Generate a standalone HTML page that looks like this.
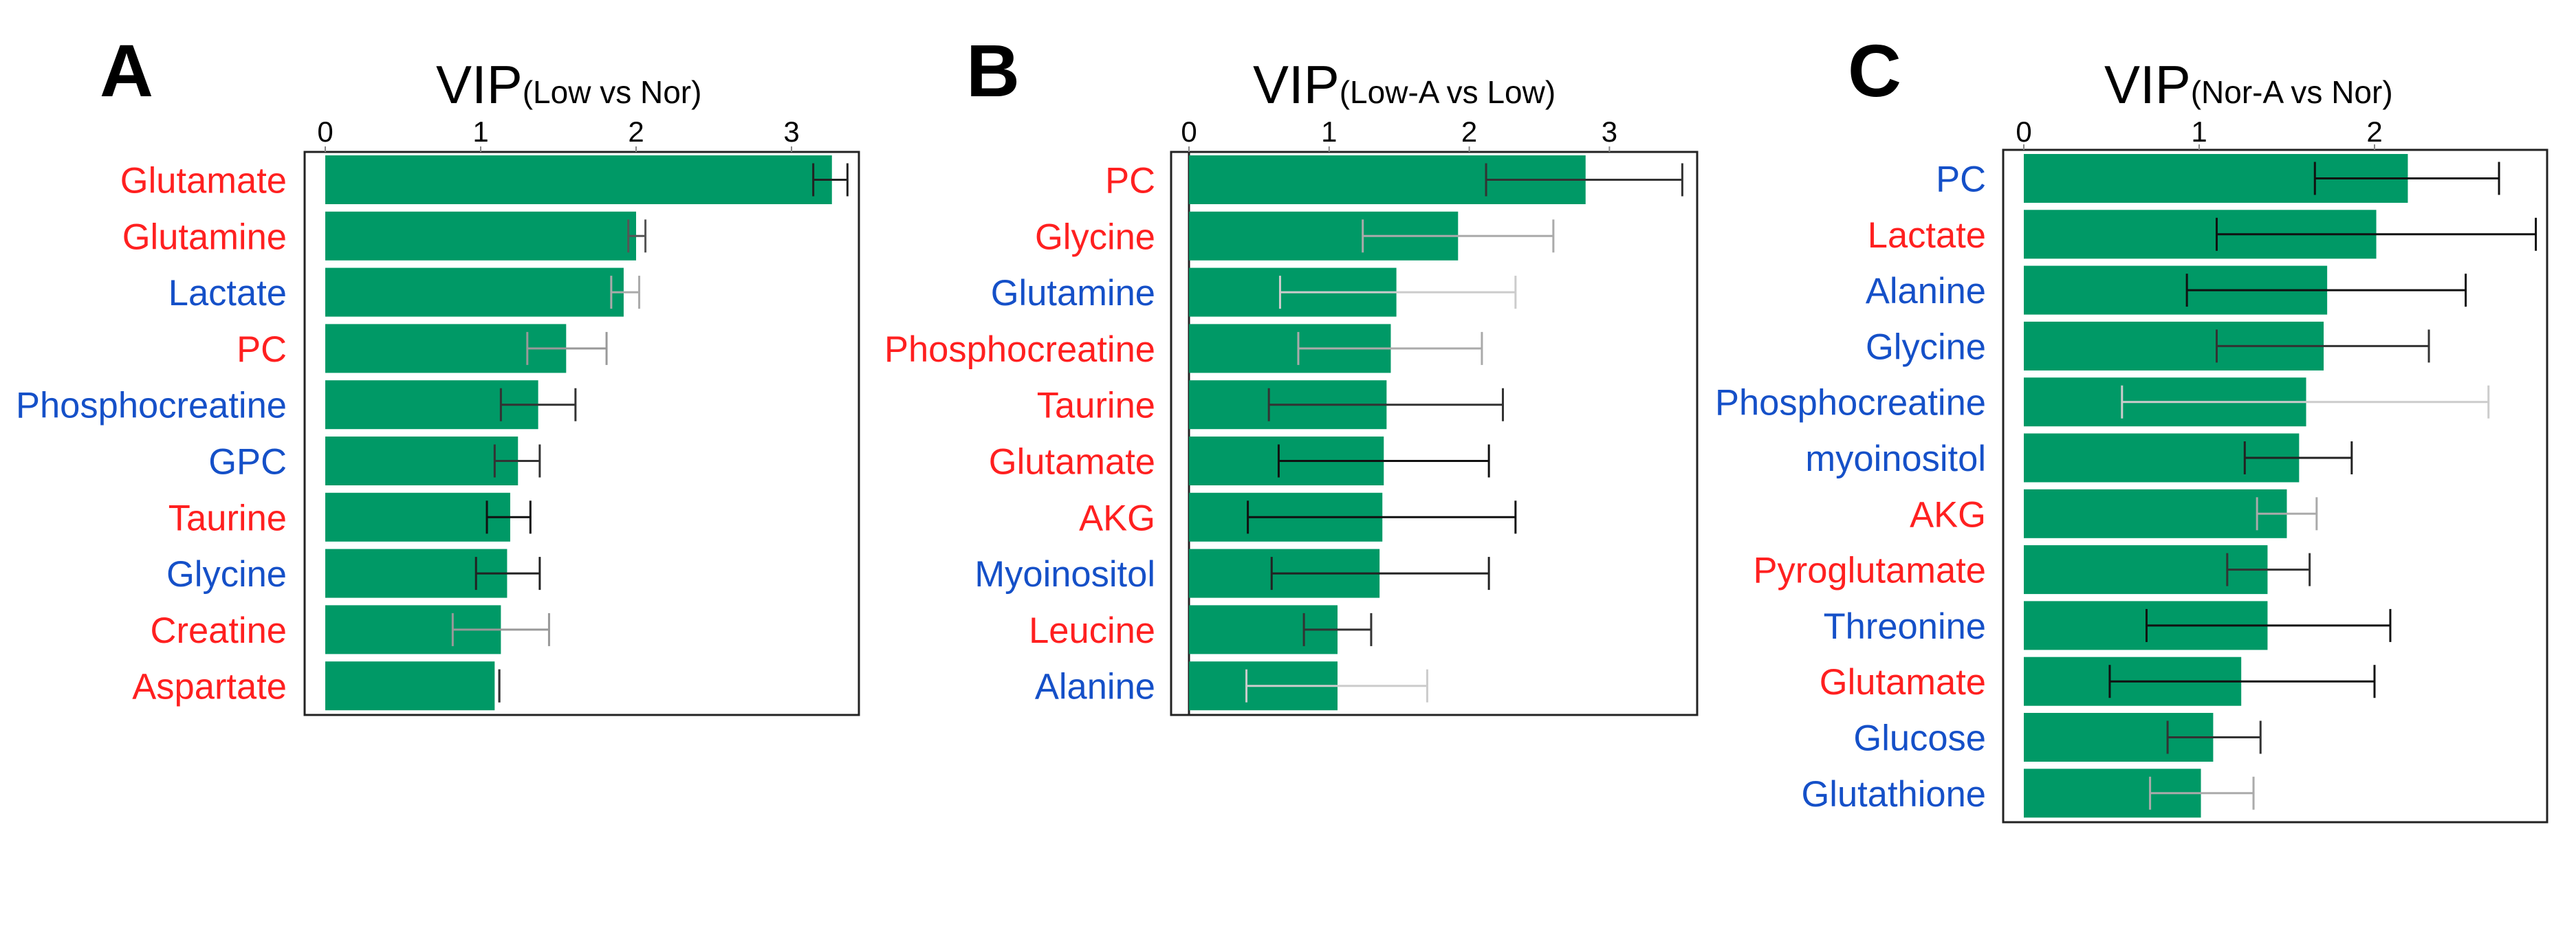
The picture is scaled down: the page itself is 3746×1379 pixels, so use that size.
<!DOCTYPE html>
<html><head><meta charset="utf-8">
<style>
html,body{margin:0;padding:0;background:#fff;}
svg{display:block;font-family:"Liberation Sans",Arial,sans-serif;}
</style></head>
<body>
<svg id="chart" width="3746" height="1379" viewBox="0 0 3746 1379" xmlns="http://www.w3.org/2000/svg"></svg>
<script>
// Panel A data
const catsA = ["Glutamate","Glutamine","Lactate","PC","Phosphocreatine","GPC","Taurine","Glycine","Creatine","Aspartate"];
const valsA = [3.26,2.00,1.92,1.55,1.37,1.24,1.19,1.17,1.13,1.09];
const loA = [3.14,1.95,1.84,1.30,1.13,1.09,1.04,0.97,0.82,1.12];
const hiA = [3.36,2.06,2.02,1.81,1.61,1.38,1.32,1.38,1.44,1.12];
const colA = ["r","r","b","r","b","b","r","b","r","r"];
const ticksA = [0,1,2,3];
// Panel B data
const catsB = ["PC","Glycine","Glutamine","Phosphocreatine","Taurine","Glutamate","AKG","Myoinositol","Leucine","Alanine"];
const valsB = [2.83,1.92,1.48,1.44,1.41,1.39,1.38,1.36,1.06,1.06];
const loB = [2.12,1.24,0.65,0.78,0.57,0.64,0.42,0.59,0.82,0.41];
const hiB = [3.52,2.60,2.33,2.09,2.24,2.14,2.33,2.14,1.30,1.70];
const colB = ["r","r","b","r","r","r","r","b","r","b"];
const ticksB = [0,1,2,3];
// Panel C data
const catsC = ["PC","Lactate","Alanine","Glycine","Phosphocreatine","myoinositol","AKG","Pyroglutamate","Threonine","Glutamate","Glucose","Glutathione"];
const valsC = [2.19,2.01,1.73,1.71,1.61,1.57,1.50,1.39,1.39,1.24,1.08,1.01];
const loC = [1.66,1.10,0.93,1.10,0.56,1.26,1.33,1.16,0.70,0.49,0.82,0.72];
const hiC = [2.71,2.92,2.52,2.31,2.65,1.87,1.67,1.63,2.09,2.00,1.35,1.31];
const colC = ["b","r","b","b","b","b","r","r","b","r","b","b"];
const ticksC = [0,1,2];

// error-bar line shades (style)
const errShadeA = ["#222","#555","#aaa","#999","#333","#333","#111","#222","#999","#333"];
const errShadeB = ["#333","#aaa","#ccc","#aaa","#333","#111","#111","#222","#333","#ccc"];
const errShadeC = ["#111","#111","#111","#333","#ccc","#222","#aaa","#333","#111","#111","#333","#aaa"];

const svg = document.getElementById('chart');
const NS = "http://www.w3.org/2000/svg";
function mk(tag, attrs, parent){
  const e = document.createElementNS(NS, tag);
  for (const k in attrs) e.setAttribute(k, attrs[k]);
  (parent||svg).appendChild(e);
  return e;
}
const RED="#ff2020", BLUE="#1550c8", GREEN="#009966";

function panel(p){
  const g = mk('g',{});
  
  
  const x = v => p.x0 + v * p.unit;
  const L = mk('text',{x:p.letterX,y:140,'font-size':108,'font-weight':'bold',fill:'#000'},g);
  L.textContent = p.letter;
  
  
  const T = mk('text',{x:p.titleX,y:150,fill:'#000'},g);
  
  
  const t1 = mk('tspan',{'font-size':78},T); t1.textContent = "VIP";
  const t2 = mk('tspan',{'font-size':46},T); t2.textContent = p.sub;
  const box = mk('rect',{x:p.bl,y:p.bt,width:p.br-p.bl,height:p.bb-p.bt,fill:'none',stroke:'#222','stroke-width':3},g);
  
  
  p.ticks.forEach(t=>{
    const tx = mk('text',{x:x(t),y:206,'font-size':42,'text-anchor':'middle',fill:'#000'},g);
    tx.textContent = t;
    
    
    const tm = mk('line',{x1:x(t),x2:x(t),y1:p.bt-8,y2:p.bt,stroke:'#888','stroke-width':2},g);
    
    
  });
  if (p.zeroLine){
    const zl = mk('line',{x1:x(0),x2:x(0),y1:p.bt,y2:p.bb,stroke:'#222','stroke-width':3},g);
    
    
  }
  p.cats.forEach((c,i)=>{
    const y = p.barTop + i*p.pitch;
    const b = mk('rect',{x:x(0),y:y,width:x(p.vals[i])-x(0),height:p.bh,fill:GREEN},g);
    
    
    const cy = y + p.bh/2;
    const sh = p.shade[i];
    const el = mk('g',{stroke:sh,'stroke-width':3},g);
    
    
    mk('line',{x1:x(p.lo[i]),x2:x(p.hi[i]),y1:cy,y2:cy},el);
    mk('line',{x1:x(p.lo[i]),x2:x(p.lo[i]),y1:cy-24,y2:cy+24},el);
    mk('line',{x1:x(p.hi[i]),x2:x(p.hi[i]),y1:cy-24,y2:cy+24},el);
    const lb = mk('text',{x:p.labelR,y:cy+19,'font-size':52.5,'text-anchor':'end',fill:p.col[i]==='r'?RED:BLUE},g);
    lb.textContent = c;
    
    
  });
}

panel({letter:"A",letterX:145,titleX:634,sub:"(Low vs Nor)",bl:443,br:1249,bt:221,bb:1040,
  x0:473,unit:226,ticks:ticksA,cats:catsA,vals:valsA,lo:loA,hi:hiA,col:colA,shade:errShadeA,
  barTop:226,pitch:81.8,bh:71,labelR:417,zeroLine:false});
panel({letter:"B",letterX:1405,titleX:1822,sub:"(Low-A vs Low)",bl:1703,br:2468,bt:221,bb:1040,
  x0:1729,unit:203.8,ticks:ticksB,cats:catsB,vals:valsB,lo:loB,hi:hiB,col:colB,shade:errShadeB,
  barTop:226,pitch:81.8,bh:71,labelR:1680,zeroLine:true});
panel({letter:"C",letterX:2687,titleX:3060,sub:"(Nor-A vs Nor)",bl:2913,br:3704,bt:218,bb:1196,
  x0:2943,unit:255,ticks:ticksC,cats:catsC,vals:valsC,lo:loC,hi:hiC,col:colC,shade:errShadeC,
  barTop:224,pitch:81.3,bh:71,labelR:2888,zeroLine:false});
</script>
</body></html>
